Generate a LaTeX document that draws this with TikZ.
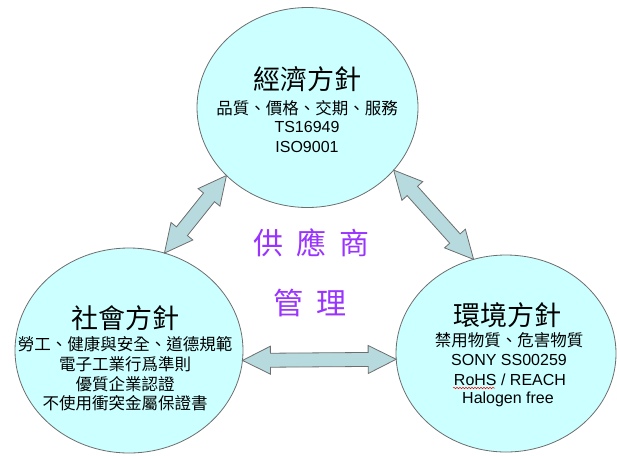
\documentclass[tikz,border=0pt]{standalone}
\usepackage{fontspec}
\setmainfont{Liberation Sans}
\newfontfamily\cjk{Noto Sans CJK TC}
\usepackage{tikz}
\usetikzlibrary{shapes.geometric, calc, decorations.pathmorphing}
\definecolor{policycyan}{RGB}{204,255,255}
\definecolor{arrowblue}{RGB}{182,218,222}
\definecolor{rimgray}{RGB}{110,110,110}
\definecolor{mgmtpurple}{RGB}{153,51,255}

% double block arrow between two border points
\newcommand{\fatarrow}[2]{%
  \draw[rimgray, fill=arrowblue, line width=0.8pt]
    (#1) -- ($(#1)!28pt!(#2)!14pt!90:(#2)$) -- ($(#1)!28pt!(#2)!7pt!90:(#2)$)
    -- ($(#2)!28pt!(#1)!7pt!-90:(#1)$) -- ($(#2)!28pt!(#1)!14pt!-90:(#1)$)
    -- (#2) -- ($(#2)!28pt!(#1)!14pt!90:(#1)$) -- ($(#2)!28pt!(#1)!7pt!90:(#1)$)
    -- ($(#1)!28pt!(#2)!7pt!-90:(#2)$) -- ($(#1)!28pt!(#2)!14pt!-90:(#2)$) -- cycle;}

\begin{document}
\begin{tikzpicture}[x=1pt, y=-1pt,
    policy/.style={ellipse, draw=rimgray, fill=policycyan, line width=0.8pt, inner sep=0pt, outer sep=0pt},
    ptitle/.style={font=\cjk\fontsize{27}{27}\selectfont, inner sep=0pt},
    cjkline/.style={font=\cjk\fontsize{16.5}{16.5}\selectfont, inner sep=0pt},
    latline/.style={font=\fontsize{16}{16}\selectfont, inner sep=0pt},
    mgmt/.style={font=\cjk\fontsize{30}{30}\selectfont, text=mgmtpurple, inner sep=0pt}]
    \useasboundingbox (0,0) rectangle (617,455);

    % Economic policy
    \node[policy, minimum width=221pt, minimum height=200pt] (econ) at (307.5,107.5) {};
    \node[ptitle] (econ-title) at (307,79) {經濟方針};
    \node[cjkline] (econ-l1) at (307,108) {品質、價格、交期、服務};
    \node[latline] (econ-l2) at (307,127) {TS16949};
    \node[latline] (econ-l3) at (307,147) {ISO9001};

    % Social policy
    \node[policy, minimum width=228pt, minimum height=205pt] (social) at (129,350.5) {};
    \node[ptitle] (social-title) at (125,318) {社會方針};
    \node[cjkline] (social-l1) at (125,344.5) {勞工、健康與安全、道德規範};
    \node[cjkline] (social-l2) at (125,364.5) {電子工業行爲準則};
    \node[cjkline] (social-l3) at (125,384) {優質企業認證};
    \node[cjkline] (social-l4) at (125,403) {不使用衝突金屬保證書};

    % Environmental policy
    \node[policy, minimum width=220pt, minimum height=197pt] (env) at (506,353.5) {};
    \node[ptitle] (env-title) at (507.5,315) {環境方針};
    \node[cjkline] (env-l1) at (509,340) {禁用物質、危害物質};
    \node[latline] (env-l2) at (509,360) {SONY SS00259};
    \node[latline] (env-l3) at (510,380) {RoHS / REACH};
    \node[latline] (env-l4) at (508,399) {Halogen free};
    \draw[red, line width=0.5pt, decorate, decoration={snake, amplitude=0.7pt, segment length=3pt}] (453,388) -- (495,388);

    % Arrows
    \fatarrow{econ.220}{social.70}
    \fatarrow{econ.324}{env.109}
    \fatarrow{social.355}{env.183}

    % Centre text
    \node[mgmt] (supplier) at (311.5,243) {供\hspace{13pt}應\hspace{13pt}商};
    \node[mgmt] (manage) at (310,302.5) {管\hspace{14pt}理};
\end{tikzpicture}
\end{document}
